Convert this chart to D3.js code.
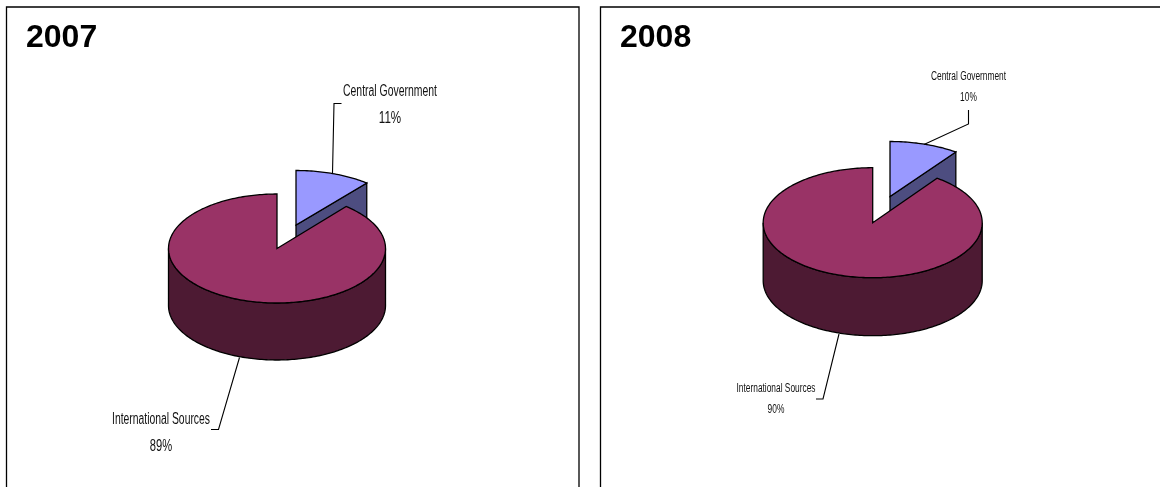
<!DOCTYPE html>
<html>
<head>
<meta charset="utf-8">
<script src="https://cdn.jsdelivr.net/npm/d3@7/dist/d3.min.js"></script>
<style>
  html, body { margin: 0; padding: 0; background: #fff; }
  svg { display: block; will-change: transform; }
  .title { font: bold 32px "Liberation Sans", Arial, sans-serif; fill: #000; }
  .label { font-family: "Liberation Sans", Arial, sans-serif; fill: #111; text-anchor: middle; }
</style>
</head>
<body>
<svg id="chart" width="1160" height="487"></svg>
<script>
// Funding shares per year, in percent
const years = ["2007", "2008"];
const categories = ["Central Government", "International Sources"];
const shares2007 = [11, 89];
const shares2008 = [10, 90];
const sliceColors = ["#9999ff", "#993366"];
const sideColors = ["#4d4d80", "#4d1a33"];

const strokeWidth = 1.3;

// Layout of each framed panel: frame, pie ellipse, exploded slice offset, callouts
const panels = [
  {
    year: years[0], shares: shares2007,
    frame: [6.5, 7, 572.5], titleAt: [26, 47],
    cx: 277, cy: 248.5, rx: 108.5, ry: 54.5, depth: 57,
    explode: [19, -23.5], sliceRx: 111,
    labels: [
      { name: categories[0], x: 390, y: 96, w: 94, size: 16, gap: 27,
        leader: [[332.5, 173], [334, 103.5], [341.5, 103.5]] },
      { name: categories[1], x: 161, y: 424, w: 98, size: 16, gap: 27,
        leader: [[239.5, 357.5], [218.5, 429.5], [211, 429.5]] }
    ]
  },
  {
    year: years[1], shares: shares2008,
    frame: [600.5, 7, 572], titleAt: [620, 47],
    cx: 872.7, cy: 222.7, rx: 109.5, ry: 55, depth: 58,
    explode: [17.3, -26.2], sliceRx: 112,
    labels: [
      { name: categories[0], x: 968.5, y: 80, w: 75, size: 12, gap: 21,
        leader: [[924, 144.5], [968.5, 124], [968.5, 110]] },
      { name: categories[1], x: 776, y: 392, w: 79, size: 12, gap: 21,
        leader: [[839, 334], [823, 399], [816, 399]] }
    ]
  }
];

const svg = d3.select("#chart");
const pie = d3.pie().sort(null).startAngle(0).endAngle(2 * Math.PI);
const traced = d3.line();

// Project a pie angle (clockwise from the top) on to a tilted ellipse
function rim(rx, ry, angle, ox, oy) {
  return [ox + rx * Math.sin(angle), oy - ry * Math.cos(angle)];
}
function arcPoints(rx, ry, a0, a1, ox, oy) {
  const n = Math.max(2, Math.ceil(Math.abs(a1 - a0) / 0.02));
  return d3.range(n + 1).map(i => rim(rx, ry, a0 + (a1 - a0) * i / n, ox, oy));
}

panels.forEach(p => {
  const g = svg.append("g");
  const [fx, fy, fw] = p.frame;

  g.append("path")
    .attr("d", traced([[fx, 487], [fx, fy], [fx + fw, fy], [fx + fw, 487]]))
    .attr("fill", "#fff").attr("stroke", "#000").attr("stroke-width", strokeWidth);

  g.append("text").attr("class", "title")
    .attr("x", p.titleAt[0]).attr("y", p.titleAt[1]).text(p.year);

  const [small, large] = pie(p.shares);
  const sx = p.cx + p.explode[0], sy = p.cy + p.explode[1];
  const corner = rim(p.sliceRx, p.ry, small.endAngle, sx, sy);

  // Exploded slice: cut wall first, then its top face
  g.append("path")
    .attr("d", traced([[sx, sy], corner, [corner[0], corner[1] + p.depth], [sx, sy + p.depth]]) + "Z")
    .attr("fill", sideColors[0]).attr("stroke", "#000").attr("stroke-width", strokeWidth);
  g.append("path")
    .attr("d", traced([[sx, sy], ...arcPoints(p.sliceRx, p.ry, small.startAngle, small.endAngle, sx, sy)]) + "Z")
    .attr("fill", sliceColors[0]).attr("stroke", "#000").attr("stroke-width", strokeWidth);

  // Main slice: front wall from the right extreme round to the left one, then top
  const top = arcPoints(p.rx, p.ry, Math.PI / 2, 3 * Math.PI / 2, p.cx, p.cy);
  const bottom = top.map(([x, y]) => [x, y + p.depth]).reverse();
  g.append("path")
    .attr("d", traced([...top, ...bottom]) + "Z")
    .attr("fill", sideColors[1]).attr("stroke", "#000").attr("stroke-width", strokeWidth);
  g.append("path")
    .attr("d", traced([[p.cx, p.cy], ...arcPoints(p.rx, p.ry, large.startAngle, large.endAngle, p.cx, p.cy)]) + "Z")
    .attr("fill", sliceColors[1]).attr("stroke", "#000").attr("stroke-width", strokeWidth);

  // Callouts
  p.labels.forEach((l, i) => {
    g.append("path").attr("d", traced(l.leader))
      .attr("fill", "none").attr("stroke", "#000").attr("stroke-width", strokeWidth * 0.85);
    g.append("text").attr("class", "label")
      .attr("x", l.x).attr("y", l.y).attr("font-size", l.size)
      .attr("textLength", l.w).attr("lengthAdjust", "spacingAndGlyphs")
      .text(l.name);
    g.append("text").attr("class", "label")
      .attr("x", l.x).attr("y", l.y + l.gap).attr("font-size", l.size)
      .attr("textLength", l.size * 1.4).attr("lengthAdjust", "spacingAndGlyphs")
      .text(p.shares[i] + "%");
  });
});
</script>
</body>
</html>
